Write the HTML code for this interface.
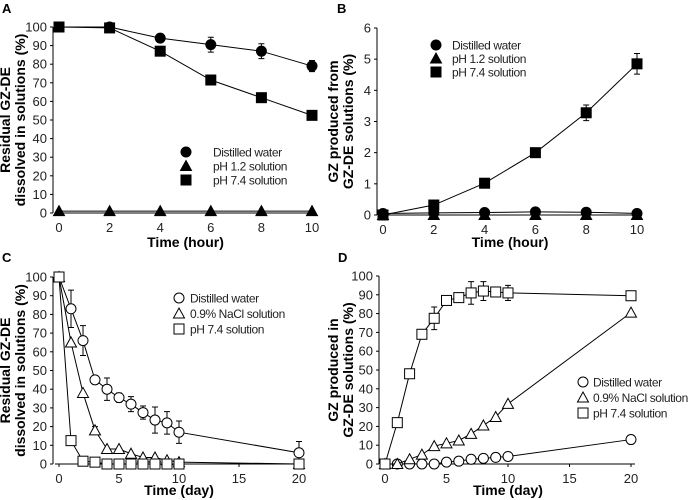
<!DOCTYPE html>
<html><head><meta charset="utf-8"><style>
body{margin:0;background:#fff}
svg{display:block;font-family:"Liberation Sans",Arial,sans-serif}
</style></head><body>
<svg id="fig" width="688" height="500" viewBox="0 0 688 500"></svg>
<script>
const hours=[0,2,4,6,8,10];
const days=[0,1,2,3,4,5,6,7,8,9,10,20];
const aWater=[100,100,94,90.5,87,79];
const aWaterErr=[0,0,2,4,4,3];
const aPh12=[1,1,1,1,1,1];
const aPh74=[100,99.5,87,71.5,62,52.5];
const bWater=[0.05,0.07,0.08,0.1,0.09,0.05];
const bPh12=[0,0,0,0,0,0];
const bPh74=[0,0.32,1.02,2.0,3.28,4.85];
const bPh74Err=[0,0,0,0.08,0.25,0.33];
const cWater=[100,83,66,45,40,35.5,32,27.5,23.5,22,17,6];
const cWaterErr=[0,10,8,0,6,2.5,4,3.5,7,6,6,6];
const cNaCl=[100,65,38,18,8,8,5.5,3.5,3.5,2,1,0];
const cNaClErr=[0,0,0,2,0,0,0,0,0,0,0,0];
const cPh74=[100,12.5,1.5,1,0,0,0,0,0,0,0,0];
const dWater=[0,0,0,0,0,1,1.5,2.5,3,3.5,4,13];
const dNaCl=[0,0,2.5,5,9.5,11,12.5,16,20.5,25,32,80.5];
const dPh74=[0,22,48,69,77.5,87,88.5,91,92,91.5,91,89.5];
const dPh74Err=[0,0,0,2.5,6,0,1.5,6,5,0,4,0];
const ticksA=[0,10,20,30,40,50,60,70,80,90,100];
const ticksB=[0,1,2,3,4,5,6];
const xTicksHour=[0,2,4,6,8,10];
const xTicksDay=[0,5,10,15,20];

const NS="http://www.w3.org/2000/svg";
const svg=document.getElementById('fig');
function mk(tag,attrs,parent,text){const e=document.createElementNS(NS,tag);for(const k in attrs)e.setAttribute(k,attrs[k]);if(text!==undefined)e.textContent=text;(parent||svg).appendChild(e);return e;}

function panel(cfg){
  const g=mk('g',{});
  
  
  const sx=v=>cfg.x0+(v-cfg.xmin)/(cfg.xmax-cfg.xmin)*(cfg.x1-cfg.x0);
  const sy=v=>cfg.y0+(v-cfg.ymin)/(cfg.ymax-cfg.ymin)*(cfg.y1-cfg.y0);
  const ax=mk('line',{x1:cfg.x0-4,y1:cfg.y0,x2:sx(cfg.xmax)+4,y2:cfg.y0,stroke:'#000','stroke-width':1},g);
  
  const ay=mk('line',{x1:cfg.x0-6,y1:cfg.y0,x2:cfg.x0-6,y2:cfg.y1,stroke:'#000','stroke-width':1},g);
  
  cfg.yt.forEach(t=>{
    mk('line',{x1:cfg.x0-9,x2:cfg.x0-6,y1:sy(t),y2:sy(t),stroke:'#000'},g);
    const l=mk('text',{x:cfg.x0-12,y:sy(t)+4.5,'text-anchor':'end','font-size':13,fill:'#222'},g,String(t));
    
  });
  cfg.xt.forEach(t=>{
    mk('line',{x1:sx(t),x2:sx(t),y1:cfg.y0,y2:cfg.y0+3,stroke:'#000'},g);
    const l=mk('text',{x:sx(t),y:cfg.y0+19,'text-anchor':'middle','font-size':13,fill:'#222'},g,String(t));
    
  });
  const xt=mk('text',{x:(cfg.x0+sx(cfg.xmax))/2,y:cfg.y0+cfg.xtOff,'text-anchor':'middle','font-size':14,'font-weight':'bold'},g,cfg.xlabel);
  
  const cy=(cfg.y0+cfg.y1)/2;
  cfg.ylabel.forEach((s,i)=>{
    const yx=cfg.ylx+i*15;
    const t=mk('text',{x:yx,y:cy,'text-anchor':'middle','font-size':14,'font-weight':'bold',transform:`rotate(-90 ${yx} ${cy})`},g,s);
    
  });
  const pl=mk('text',{x:cfg.lx,y:cfg.ly,'font-size':13,'font-weight':'bold'},g,cfg.letter);
  
  cfg.series.forEach(s=>{
    const sg=mk('g',{},g);
    
    const pts=s.xs.map((x,i)=>sx(x)+','+sy(s.ys[i])).join(' ');
    mk('polyline',{points:pts,fill:'none',stroke:'#000','stroke-width':1},sg);
    if(s.err)s.xs.forEach((x,i)=>{const e=s.err[i];if(!e)return;const X=sx(x);
      mk('path',{d:`M${X},${sy(s.ys[i]-e)}V${sy(s.ys[i]+e)}M${X-3},${sy(s.ys[i]+e)}h6M${X-3},${sy(s.ys[i]-e)}h6`,stroke:'#000',fill:'none'},sg);});
    s.xs.forEach((x,i)=>{const m=marker(s.shape,s.open,sx(x),sy(s.ys[i]),sg);});
  });
  cfg.legend.forEach((l,i)=>{
    const y=cfg.legY+i*cfg.legDy;
    const m=marker(l.shape,l.open,cfg.legX,y,g);
    
    const t=mk('text',{x:cfg.legX+cfg.legGap,y:y+4.5,'font-size':12,'letter-spacing':'-0.4',fill:'#222'},g,l.label);
    
  });
}
function marker(shape,open,x,y,p){
  const fill=open?'#fff':'#000';
  if(shape==='c')return mk('circle',{cx:x,cy:y,r:5,fill,stroke:'#000','stroke-width':1},p);
  if(shape==='s')return mk('rect',{x:x-5,y:y-5,width:10,height:10,fill,stroke:'#000','stroke-width':1},p);
  return mk('polygon',{points:`${x},${y-5.5} ${x+5.5},${y+4.5} ${x-5.5},${y+4.5}`,fill,stroke:'#000','stroke-width':1},p);
}
const legF=[{shape:'c',label:'Distilled water'},{shape:'t',label:'pH 1.2 solution'},{shape:'s',label:'pH 7.4 solution'}];
const legO=[{shape:'c',open:1,label:'Distilled water'},{shape:'t',open:1,label:'0.9% NaCl solution'},{shape:'s',open:1,label:'pH 7.4 solution'}];
panel({name:'panel-a',letter:'A',lx:2,ly:13,x0:59,x1:312,xmin:0,xmax:10,y0:213,y1:27,ymin:0,ymax:100,yt:ticksA,xt:xTicksHour,xtOff:34,
  xlabel:'Time (hour)',ylabel:['Residual GZ-DE','dissolved in solutions (%)'],ylx:10,legX:186,legGap:27,legY:152,legDy:14,legend:legF,
  series:[{id:'a-water',shape:'c',xs:hours,ys:aWater,err:aWaterErr},{id:'a-ph12',shape:'t',xs:hours,ys:aPh12},{id:'a-ph74',shape:'s',xs:hours,ys:aPh74}]});
panel({name:'panel-b',letter:'B',lx:337,ly:13,x0:383,x1:637,xmin:0,xmax:10,y0:215,y1:28,ymin:0,ymax:6,yt:ticksB,xt:xTicksHour,xtOff:32,
  xlabel:'Time (hour)',ylabel:['GZ produced from','GZ-DE solutions (%)'],ylx:338,legX:436,legGap:16,legY:45,legDy:13.5,legend:legF,
  series:[{id:'b-water',shape:'c',xs:hours,ys:bWater},{id:'b-ph12',shape:'t',xs:hours,ys:bPh12},{id:'b-ph74',shape:'s',xs:hours,ys:bPh74,err:bPh74Err}]});
panel({name:'panel-c',letter:'C',lx:2,ly:262,x0:59,x1:299,xmin:0,xmax:20,y0:464,y1:277,ymin:0,ymax:100,yt:ticksA,xt:xTicksDay,xtOff:31,
  xlabel:'Time (day)',ylabel:['Residual GZ-DE','dissolved in solutions (%)'],ylx:10,legX:179,legGap:11,legY:298,legDy:15.5,legend:legO,
  series:[{id:'c-water',shape:'c',open:1,xs:days,ys:cWater,err:cWaterErr},{id:'c-nacl',shape:'t',open:1,xs:days,ys:cNaCl,err:cNaClErr},{id:'c-ph74',shape:'s',open:1,xs:days,ys:cPh74}]});
panel({name:'panel-d',letter:'D',lx:338,ly:262,x0:385,x1:631,xmin:0,xmax:20,y0:464,y1:276,ymin:0,ymax:100,yt:ticksA,xt:xTicksDay,xtOff:31,
  xlabel:'Time (day)',ylabel:['GZ produced in','GZ-DE solutions (%)'],ylx:338,legX:583,legGap:10,legY:382,legDy:15.5,legend:legO,
  series:[{id:'d-water',shape:'c',open:1,xs:days,ys:dWater},{id:'d-nacl',shape:'t',open:1,xs:days,ys:dNaCl},{id:'d-ph74',shape:'s',open:1,xs:days,ys:dPh74,err:dPh74Err}]});
</script>
</body></html>
